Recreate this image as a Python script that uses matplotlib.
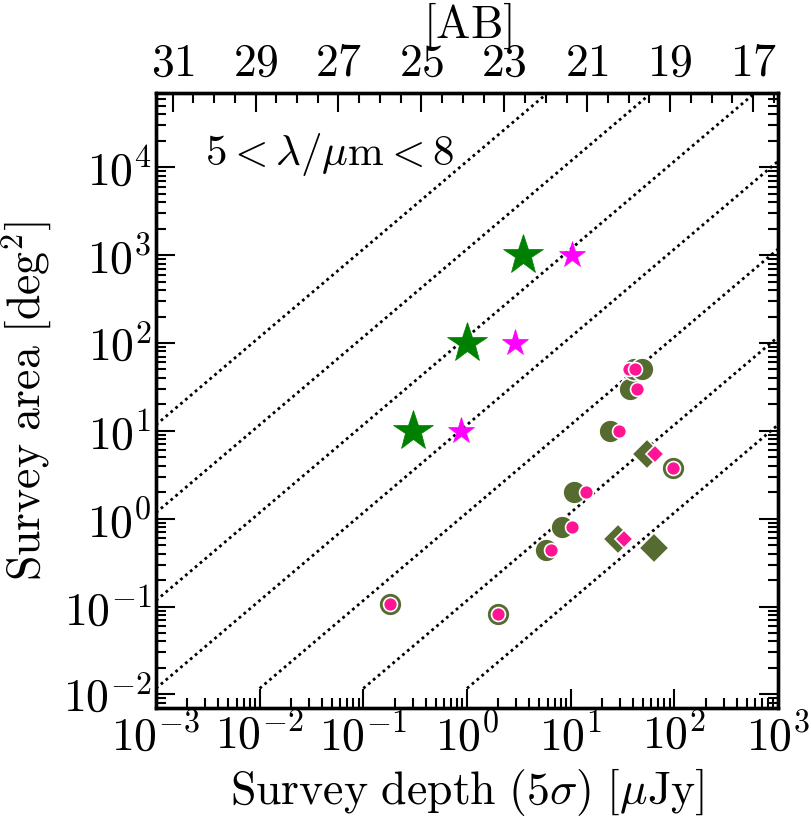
import numpy as np
import matplotlib
matplotlib.use('Agg')
import matplotlib.pyplot as plt
from matplotlib.ticker import FixedLocator, LogLocator, FuncFormatter, NullFormatter

plt.rcParams['mathtext.fontset'] = 'cm'
plt.rcParams['font.family'] = 'serif'
plt.rcParams['font.serif'] = ['cmr10', 'DejaVu Serif']
plt.rcParams['axes.formatter.use_mathtext'] = True

# ---------------- data ----------------
star_big_depth = [0.3, 1.0, 3.5]
star_big_area = [10, 100, 1000]
star_small_depth = [0.88, 2.93, 10.4]
star_small_area = [10, 100, 1000]

olive_circ_depth = [0.18, 1.98, 5.8, 8.3, 10.7, 23.9, 37, 40.5, 48.9, 97]
olive_circ_area = [0.108, 0.083, 0.444, 0.805, 2.0, 10, 30, 50, 50, 3.8]
pink_circ_depth = [0.18, 1.98, 6.5, 10.2, 14.2, 29, 43.9, 36.4, 41.6, 97]
pink_circ_area = [0.108, 0.083, 0.444, 0.805, 2.0, 10, 30, 50, 50, 3.8]

olive_diam_depth = [54, 28.6, 63.5]
olive_diam_area = [5.5, 0.59, 0.465]
pink_diam_depth = [64.5, 32.6]
pink_diam_area = [5.5, 0.58]

# guide lines: area = factor * 10**k * depth
guide_exponents = [4, 3, 2, 1, 0, -1, -2]
guide_factor = 1.17
guide_area_start = 1.17e-2

ab_major = [31, 29, 27, 25, 23, 21, 19, 17]
ab_minor = list(np.arange(16.5, 32.0, 0.5))
ab_zero = 23.9

xlim = (1e-3, 1e3)
ylim = (7e-3, 7e4)

FS = 33

# ---------------- figure ----------------
fig = plt.figure(figsize=(8.11, 8.17), dpi=100)
ax = fig.add_axes([156/811, 1-708/817, 622/811, 615/817])
ax.set_xscale('log')
ax.set_yscale('log')

for k in guide_exponents:
    norm = guide_factor * 10.0**k
    x0 = max(xlim[0], guide_area_start / norm)
    xs = np.array([x0, xlim[1]])
    ax.plot(xs, norm * xs, ls=(0, (1, 1.3)), color='k', lw=2.0, zorder=1)

ax.plot(olive_circ_depth, olive_circ_area, 'o', ms=16.5, mfc='#556B2F', mec='white', mew=1.2, ls='none', zorder=3)
ax.plot(olive_diam_depth, olive_diam_area, 'D', ms=15, mfc='#556B2F', mec='white', mew=1.2, ls='none', zorder=3)
ax.plot(pink_circ_depth, pink_circ_area, 'o', ms=10, mfc='#FF1493', mec='white', mew=1.2, ls='none', zorder=4)
ax.plot(pink_diam_depth, pink_diam_area, 'D', ms=9, mfc='#FF1493', mec='white', mew=1.2, ls='none', zorder=4)
ax.plot(star_big_depth, star_big_area, '*', ms=30, mfc='green', mec='green', mew=0.5, ls='none', zorder=3)
ax.plot(star_small_depth, star_small_area, '*', ms=20, mfc='magenta', mec='magenta', mew=0.5, ls='none', zorder=3)

ax.set_xlim(*xlim)
ax.set_ylim(*ylim)

fmt = FuncFormatter(lambda v, p: r'$10^{%d}$' % int(round(np.log10(v))))
for axis in (ax.xaxis, ax.yaxis):
    axis.set_major_locator(LogLocator(base=10, numticks=20))
    axis.set_minor_locator(LogLocator(base=10, subs=np.arange(2, 10), numticks=20))
    axis.set_major_formatter(fmt)
    axis.set_minor_formatter(NullFormatter())

ax.tick_params(which='both', direction='in', top=False, right=True, width=1.5, labelsize=FS)
ax.tick_params(which='major', length=14)
ax.tick_params(which='minor', length=7)
ax.tick_params(axis='x', pad=4)
ax.tick_params(axis='y', pad=3)

for s in ax.spines.values():
    s.set_linewidth(2.4)

ax2 = ax.twiny()
ax2.set_xscale('log')
ax2.set_xlim(*xlim)
ax2.xaxis.set_major_locator(FixedLocator([10**((ab_zero - m)/2.5) for m in ab_major]))
ax2.xaxis.set_minor_locator(FixedLocator([10**((ab_zero - m)/2.5) for m in ab_minor]))
ax2.set_xticklabels([r'$%d$' % m for m in ab_major])
ax2.xaxis.set_minor_formatter(NullFormatter())
ax2.tick_params(which='both', direction='in', width=1.5, labelsize=FS, pad=6)
ax2.tick_params(which='major', length=14)
ax2.tick_params(which='minor', length=7)
for s in ax2.spines.values():
    s.set_linewidth(2.4)

ax.text(0.079, 0.883, r'$5<\lambda/\mu\mathrm{m}<8$', transform=ax.transAxes,
        fontsize=31, va='baseline', ha='left')

ax.set_xlabel(r'$\mathrm{Survey\ depth\ }(5\sigma)\ [\mu\mathrm{Jy}]$', fontsize=FS, labelpad=5)
ax.set_ylabel(r'$\mathrm{Survey\ area\ [deg}^2\mathrm{]}$', fontsize=FS, labelpad=6)
ax2.set_xlabel(r'$\mathrm{[AB]}$', fontsize=FS, labelpad=3.5)

fig.savefig('out.png', dpi=100)
